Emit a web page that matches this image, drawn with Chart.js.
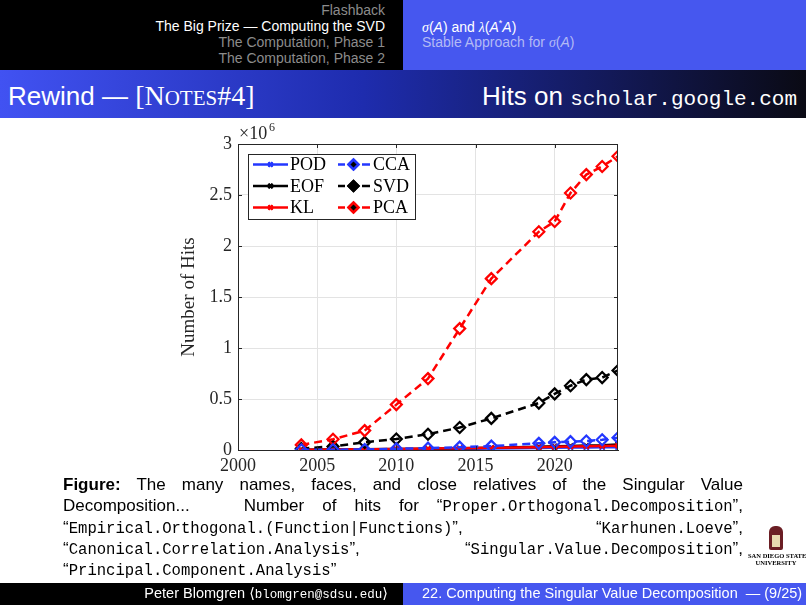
<!DOCTYPE html>
<html>
<head>
<meta charset="utf-8">
<script src="https://cdn.jsdelivr.net/npm/chart.js@4.4.1/dist/chart.umd.min.js"></script>
<style>
  html, body { margin: 0; padding: 0; }
  body { width: 806px; height: 605px; position: relative; overflow: hidden; background: #fff;
         font-family: "Liberation Sans", "DejaVu Sans", sans-serif; }
  .abs { position: absolute; white-space: nowrap; }
  #hdrL { left: 0; top: 0; width: 403px; height: 70px; background: #000; }
  #hdrR { left: 403px; top: 0; width: 403px; height: 70px; background: #4657ef; }
  #hdrL div { position: absolute; right: 18px; font-size: 14px; color: #8c8c8c; }
  #hdrR div { position: absolute; left: 19px; font-size: 14px; color: #fff; }
  #titlebar { left: 0; top: 70px; width: 806px; height: 48px;
              background: linear-gradient(to right, #4152f2 0%, #1e2cae 45%, #0a0a14 100%); }
  #titlebar .t { position: absolute; top: 10px; font-size: 26px; color: #fff; }
  .mono { font-family: "Liberation Mono", "DejaVu Sans Mono", monospace; }
  .serif { font-family: "Liberation Serif", "DejaVu Serif", serif; }
  #chartBox { left: 170px; top: 120px; width: 470px; height: 355px; }
  #caption { left: 63px; top: 474px; width: 680px; font-size: 17px; color: #000; }
  #caption .ln { height: 21.3px; line-height: 21.3px; text-align: justify; text-align-last: justify; white-space: nowrap; }
  #caption .ln.last { text-align-last: left; }
  #caption .mono { font-size: 15.6px; }
  #footL { left: 0; top: 583px; width: 403px; height: 22px; background: #000; }
  #footR { left: 403px; top: 583px; width: 403px; height: 22px; background: #4657ef; }
  .foot { position: absolute; top: 2px; font-size: 14.5px; color: #fff; }
</style>
</head>
<body>
<div id="hdrL" class="abs">
  <div style="top:2px;">Flashback</div>
  <div style="top:18px;color:#fff;">The Big Prize — Computing the SVD</div>
  <div style="top:34px;">The Computation, Phase 1</div>
  <div style="top:50px;">The Computation, Phase 2</div>
</div>
<div id="hdrR" class="abs">
  <div style="top:18px;"><i class="serif">σ</i>(<i>A</i>) and <i class="serif">λ</i>(<i>A</i><sup style="font-size:9px">*</sup><i>A</i>)</div>
  <div style="top:34px;color:#b3baf5;">Stable Approach for <i class="serif">σ</i>(<i>A</i>)</div>
</div>
<div id="titlebar" class="abs">
  <div class="t" style="left:8px;">Rewind — <span class="serif" style="font-size:28px">[N<span style="font-size:21px">OTES</span>#4]</span></div>
  <div class="t" style="right:9px;top:11px;">Hits on <span class="mono" style="font-size:21px">scholar.google.com</span></div>
</div>

<div id="chartBox" class="abs"><canvas id="hits" width="470" height="355"></canvas></div>

<div id="caption" class="abs">
  <div class="ln"><b>Figure:</b> The many names, faces, and close relatives of the Singular Value</div>
  <div class="ln">Decomposition... &nbsp; Number of hits for “<span class="mono">Proper.Orthogonal.Decomposition</span>”,</div>
  <div class="ln">“<span class="mono">Empirical.Orthogonal.(Function|Functions)</span>”, “<span class="mono">Karhunen.Loeve</span>”,</div>
  <div class="ln">“<span class="mono">Canonical.Correlation.Analysis</span>”, “<span class="mono">Singular.Value.Decomposition</span>”,</div>
  <div class="ln last">“<span class="mono">Principal.Component.Analysis</span>”</div>
</div>

<div class="abs" style="left:748px;top:526px;width:56px;height:50px;text-align:center;">
  <div style="margin:0 auto;width:14px;height:24px;background:#6b1e24;border-radius:6px 6px 2px 2px;position:relative;">
    <div style="position:absolute;left:3px;top:9px;width:8px;height:12px;background:#e8d9b0;"></div>
  </div>
  <div class="serif" style="font-size:6.5px;line-height:7px;margin-top:2px;font-weight:bold;">SAN DIEGO STATE<br>UNIVERSITY</div>
</div>

<div id="footL" class="abs"><div class="foot" style="right:15px;">Peter Blomgren ⟨<span class="mono" style="font-size:12.5px">blomgren@sdsu.edu</span>⟩</div></div>
<div id="footR" class="abs"><div class="foot" style="left:19px;">22. Computing the Singular Value Decomposition &nbsp;— (9/25)</div></div>

<script>
const years = [2004, 2006, 2008, 2010, 2012, 2014, 2016, 2019, 2020, 2021, 2022, 2023, 2024];
const podHits = [1000, 2000, 4000, 6000, 8000, 11000, 14000, 20000, 22000, 24000, 25000, 26000, 28000];
const eofHits = [2000, 4000, 7000, 10000, 13000, 17000, 22000, 32000, 36000, 40000, 44000, 46000, 55000];
const klHits = [3000, 5000, 8000, 11000, 14000, 18000, 22000, 28000, 31000, 34000, 36000, 38000, 42000];
const ccaHits = [2000, 3000, 5000, 12000, 18000, 28000, 38000, 65000, 75000, 82000, 88000, 100000, 120000];
const svdHits = [15000, 35000, 75000, 108000, 155000, 220000, 310000, 460000, 550000, 630000, 690000, 710000, 780000];
const pcaHits = [50000, 105000, 190000, 445000, 700000, 1190000, 1680000, 2140000, 2240000, 2520000, 2700000, 2780000, 2880000];
const yTicks = [0, 0.5, 1, 1.5, 2, 2.5, 3];
const xTicks = [2000, 2005, 2010, 2015, 2020];

const BLUE = 'rgb(35,55,255)', RED = 'rgb(255,0,0)', BLACK = 'rgb(0,0,0)';
const serif = '"Liberation Serif", "DejaVu Serif", serif';

function series(label, vals, color, dashed, order) {
  return {
    label: label,
    data: years.map((y, i) => ({ x: y, y: vals[i] })),
    borderColor: color,
    backgroundColor: 'rgba(0,0,0,0)',
    borderWidth: 2.5,
    borderDash: dashed ? [8, 5] : [],
    pointStyle: dashed ? 'rectRot' : 'crossRot',
    pointRadius: dashed ? 5.5 : 3.5,
    pointBorderWidth: dashed ? 2.2 : 1.8,
    pointBorderColor: color,
    pointBackgroundColor: 'rgba(0,0,0,0)',
    tension: 0,
    order: order
  };
}

const datasets = [
  series('POD', podHits, BLUE, false, 6),
  series('EOF', eofHits, BLACK, false, 5),
  series('KL', klHits, RED, false, 4),
  series('CCA', ccaHits, BLUE, true, 1),
  series('SVD', svdHits, BLACK, true, 3),
  series('PCA', pcaHits, RED, true, 2)
];

// box, inner ticks, x10^6 label and the legend, MATLAB style
const matlabBits = {
  id: 'matlabBits',
  afterDraw(chart) {
    const { ctx, chartArea: a, scales } = chart;
    ctx.save();
    ctx.strokeStyle = '#262626';
    ctx.lineWidth = 1;
    ctx.strokeRect(a.left + 0.5, a.top + 0.5, a.right - a.left - 1, a.bottom - a.top);
    ctx.beginPath();
    yTicks.forEach(t => {
      const py = Math.round(scales.y.getPixelForValue(t * 1e6)) + 0.5;
      ctx.moveTo(a.left, py); ctx.lineTo(a.left + 4, py);
      ctx.moveTo(a.right, py); ctx.lineTo(a.right - 4, py);
    });
    xTicks.forEach(t => {
      const px = Math.round(scales.x.getPixelForValue(t)) + 0.5;
      ctx.moveTo(px, a.bottom); ctx.lineTo(px, a.bottom - 4);
      ctx.moveTo(px, a.top); ctx.lineTo(px, a.top + 4);
    });
    ctx.stroke();

    ctx.fillStyle = '#262626';
    ctx.textBaseline = 'alphabetic';
    ctx.textAlign = 'left';
    ctx.font = '18px ' + serif;
    ctx.fillText('×10', a.left + 1, a.top - 5);
    ctx.font = '12px ' + serif;
    ctx.fillText('6', a.left + 31, a.top - 13);

    // legend
    const bx = a.left + 10, by = a.top + 10, bw = 167, bh = 65;
    ctx.fillStyle = '#fff';
    ctx.fillRect(bx, by, bw, bh);
    ctx.strokeStyle = '#262626';
    ctx.strokeRect(bx + 0.5, by + 0.5, bw, bh);
    const cols = [[0, 1, 2], [3, 4, 5]];
    cols.forEach((idx, c) => {
      idx.forEach((di, r) => {
        const ds = datasets[di];
        const cy = by + 10.5 + r * 21.5;
        const x0 = bx + 5 + c * 83;
        ctx.strokeStyle = ds.borderColor;
        ctx.lineWidth = 2.5;
        ctx.setLineDash([]);
        ctx.beginPath();
        if (ds.borderDash.length) {
          ctx.moveTo(x0 + 2, cy); ctx.lineTo(x0 + 9, cy);
          ctx.moveTo(x0 + 26, cy); ctx.lineTo(x0 + 34, cy);
        } else {
          ctx.moveTo(x0, cy); ctx.lineTo(x0 + 35, cy);
        }
        ctx.stroke();
        Chart.helpers.drawPoint(ctx, {
          pointStyle: ds.pointStyle, radius: ds.borderDash.length ? 5 : 3, borderWidth: ds.pointBorderWidth
        }, x0 + 17.5, cy);
        ctx.lineWidth = ds.pointBorderWidth;
        ctx.stroke();
        ctx.fillStyle = '#000';
        ctx.font = '18px ' + serif;
        ctx.textBaseline = 'middle';
        ctx.fillText(ds.label, x0 + 37, cy + 1);
      });
    });
    ctx.restore();
  }
};

new Chart(document.getElementById('hits'), {
  type: 'line',
  data: { datasets: datasets },
  options: {
    responsive: false,
    animation: false,
    layout: { padding: { top: 24, right: 22, left: 0, bottom: 0 } },
    plugins: { legend: { display: false }, tooltip: { enabled: false } },
    scales: {
      x: {
        type: 'linear',
        min: 2000, max: 2024,
        afterFit: s => { s.height = 25; },
        afterBuildTicks: s => { s.ticks = xTicks.map(v => ({ value: v })); },
        grid: { color: '#e3e3e3', drawTicks: false },
        border: { color: '#262626' },
        ticks: { padding: 5, color: '#262626', font: { family: serif, size: 18 },
                 callback: v => String(v) }
      },
      y: {
        min: 0, max: 3e6,
        afterFit: s => { s.width = 68; },
        afterBuildTicks: s => { s.ticks = yTicks.map(v => ({ value: v * 1e6 })); },
        grid: { color: '#e3e3e3', drawTicks: false },
        border: { color: '#262626' },
        ticks: { padding: 6, color: '#262626', font: { family: serif, size: 18 },
                 callback: v => String(v / 1e6) },
        title: { display: true, text: 'Number of Hits', color: '#262626',
                 font: { family: serif, size: 19 }, padding: { top: 8, bottom: 0 } }
      }
    }
  },
  plugins: [matlabBits]
});
</script>
</body>
</html>
